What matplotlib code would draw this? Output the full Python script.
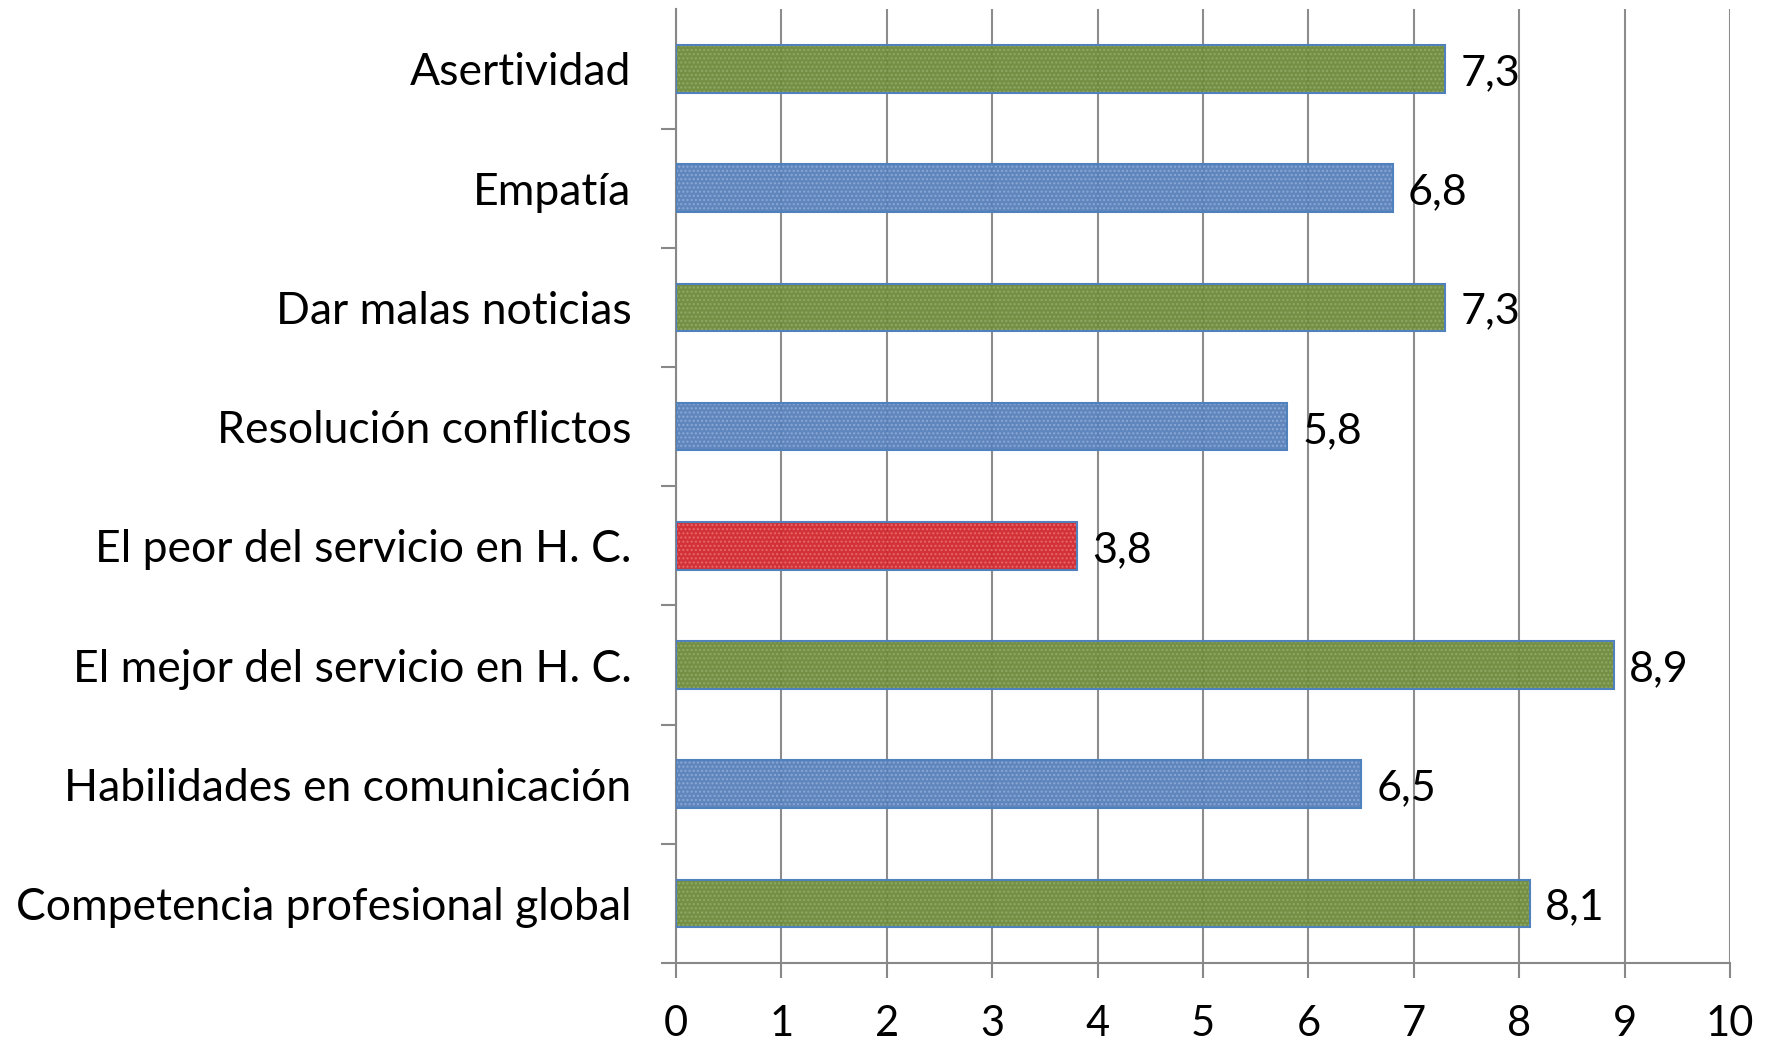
import matplotlib.pyplot as plt
import numpy as np

# Data (bottom to top)
categories = ['Competencia profesional global', 'Habilidades en comunicación',
              'El mejor del servicio en H. C.', 'El peor del servicio en H. C.',
              'Resolución conflictos', 'Dar malas noticias', 'Empatía', 'Asertividad']
values = [8.1, 6.5, 8.9, 3.8, 5.8, 7.3, 6.8, 7.3]
labels = ['8,1', '6,5', '8,9', '3,8', '5,8', '7,3', '6,8', '7,3']
groups = ['g', 'b', 'g', 'r', 'b', 'g', 'b', 'g']

fill = {'g': '#6C8A3A', 'b': '#5680BA', 'r': '#D0262C'}
dots = {'g': '#93AA6A', 'b': '#8EAAD6', 'r': '#E86A6E'}

plt.rcParams['font.family'] = ['Lato', 'DejaVu Sans']
plt.rcParams['hatch.linewidth'] = 1.0

fig = plt.figure(figsize=(17.67, 10.42), dpi=100)
ax = fig.add_axes([0.3826, 0.0758, 0.5964, 0.9152])

y = np.arange(len(categories))
for yi, v, g in zip(y, values, groups):
    ax.barh(yi, v, height=0.4, color=fill[g], edgecolor=dots[g], hatch='....',
            linewidth=0, zorder=2, alpha=0.95)
    ax.barh(yi, v, height=0.4, color='none', edgecolor='#4F81BD',
            linewidth=1.5, zorder=3)

for yi, v, t in zip(y, values, labels):
    ax.annotate(t, (v, yi), xytext=(11, -3), textcoords='offset points',
                ha='left', va='center', fontsize=31)

ax.set_xlim(0, 10)
ax.set_ylim(-0.5, 7.5)
ax.set_xticks(range(0, 11))
ax.tick_params(axis='x', labelsize=30, length=11, width=1.5, color='#888888',
               direction='out', pad=19)
ax.set_yticks(y)
ax.set_yticklabels(categories, fontsize=32)
ax.tick_params(axis='y', which='major', length=0, pad=32)
ax.set_yticks(np.arange(-0.5, 7.0, 1.0), minor=True)
ax.tick_params(axis='y', which='minor', length=11, width=1.5, color='#888888')

ax.grid(axis='x', color='#8C8C8C', linewidth=1.5, zorder=1)
ax.set_axisbelow(True)
for s in ['top', 'right']:
    ax.spines[s].set_visible(False)
for s in ['left', 'bottom']:
    ax.spines[s].set_color('#888888')
    ax.spines[s].set_linewidth(1.5)

plt.savefig('out.png', dpi=100)
